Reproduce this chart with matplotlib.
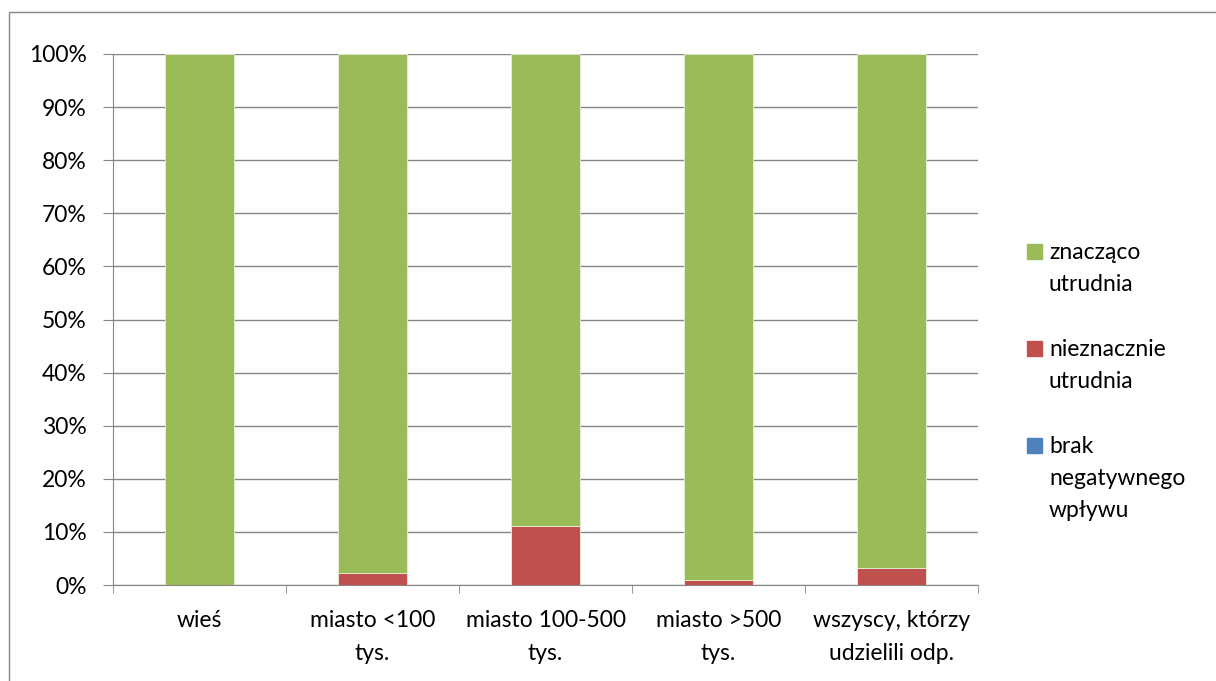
import numpy as np
import matplotlib.pyplot as plt
from matplotlib.patches import Rectangle

plt.rcParams['font.family'] = ['Lato', 'DejaVu Sans']

categories = ['wieś', 'miasto <100\ntys.', 'miasto 100-500\ntys.', 'miasto >500\ntys.',
              'wszyscy, którzy\nudzielili odp.']
brak = [0.0, 0.0, 0.0, 0.0, 0.0]
nieznacznie = [0.0, 2.3, 11.2, 0.9, 3.2]
znaczaco = [100.0 - b - n for b, n in zip(brak, nieznacznie)]

labels = ['brak\nnegatywnego\nwpływu', 'nieznacznie\nutrudnia', 'znacząco\nutrudnia']
colors = ['#4F81BD', '#C0504D', '#9BBB59']
yticks = [0, 10, 20, 30, 40, 50, 60, 70, 80, 90, 100]

W, H = 1216, 681
fs = 16.5
fig = plt.figure(figsize=(W / 100, H / 100), dpi=100)
ax = fig.add_axes([113 / W, 1 - 585 / H, (978 - 113) / W, (585 - 54) / H])

# outer chart frame (only top/left visible in the crop)
fig.patches.append(Rectangle((9 / W, -0.1), 1.2, 1 - 12 / H + 0.1, transform=fig.transFigure,
                             fill=False, edgecolor='#868686', linewidth=1.0))

x = np.arange(len(categories))
w = 0.4
bottom = np.zeros(len(categories))
for vals, col, lab in zip([brak, nieznacznie, znaczaco], colors, labels):
    ax.bar(x, vals, w, bottom=bottom, color=col, edgecolor='#E8EFD8', linewidth=0.6,
           label=lab, zorder=3)
    bottom += np.array(vals)

ax.set_xlim(-0.5, len(categories) - 0.5)
ax.set_ylim(0, 100)
ax.set_yticks(yticks)
ax.set_yticklabels([f'{v}%' for v in yticks], fontsize=fs)
ax.yaxis.grid(True, color='#868686', linewidth=1.0, zorder=0)
ax.set_axisbelow(True)

ax.set_xticks(x)
ax.set_xticklabels(categories, fontsize=fs, linespacing=1.7)
ax.tick_params(axis='x', length=0, pad=18)
ax.set_xticks(np.arange(len(categories) + 1) - 0.5, minor=True)
ax.tick_params(axis='x', which='minor', length=6, color='#868686', direction='out')
ax.tick_params(axis='y', length=7, color='#868686', pad=12)

for s in ['top', 'right']:
    ax.spines[s].set_visible(False)
for s in ['left', 'bottom']:
    ax.spines[s].set_color('#868686')

# legend: square aligned with the first text line
for i, (col, lab) in enumerate(zip(colors[::-1], labels[::-1])):
    yc = 253 + 97 * i
    fig.patches.append(Rectangle((1027 / W, 1 - (yc + 6) / H), 15 / W, 15 / H,
                                 transform=fig.transFigure, color=col))
    fig.text(1049 / W, 1 - (yc - 11) / H, lab, fontsize=fs, va='top', ha='left',
             linespacing=1.65)

fig.savefig('out.png', dpi=100)
